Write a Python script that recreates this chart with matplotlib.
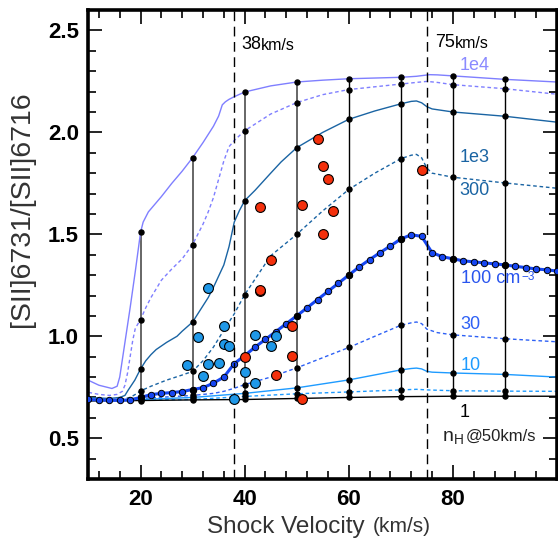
# [SII] doublet ratio vs shock velocity: model grid for several pre-shock
# densities, with vertical lines joining equal-velocity models, plus the
# observed knots (red and blue circles).
import matplotlib.pyplot as plt
from matplotlib.ticker import MultipleLocator, FixedLocator

plt.rcParams['font.family'] = ['Liberation Sans', 'DejaVu Sans']
plt.rcParams['mathtext.fontset'] = 'custom'
plt.rcParams['mathtext.rm'] = 'Liberation Sans'
plt.rcParams['mathtext.it'] = 'Liberation Sans:italic'

# velocities where the model grid has its connecting lines
grid_v = [20, 30, 40, 50, 60, 70, 80, 90]

# model tracks, one per density (cm^-3 at 50 km/s)
v_1e4 = [10, 12, 14.5, 15.5, 16, 17, 18, 19, 20, 20.5, 21.5, 23, 24, 26, 28, 30,
         32, 33, 34, 35, 35.7, 36.3, 37, 38, 40, 45, 50, 55, 60, 70, 73, 75.5,
         77, 80, 90, 100]
r_1e4 = [0.784, 0.76, 0.744, 0.755, 0.80, 0.97, 1.14, 1.32, 1.51, 1.56, 1.61,
         1.655, 1.685, 1.75, 1.81, 1.876, 1.95, 1.99, 2.03, 2.08, 2.135, 2.15,
         2.162, 2.175, 2.198, 2.228, 2.247, 2.256, 2.263, 2.27, 2.275, 2.283,
         2.282, 2.277, 2.26, 2.247]

v_3e3 = [10, 12, 14, 15.5, 16.5, 17, 17.5, 18, 18.5, 19, 20, 21, 22, 24, 26, 28,
         30, 32, 33, 34, 35, 36, 37, 38, 40, 45, 50, 55, 60, 70, 73, 75, 77,
         80, 90, 100]
r_3e3 = [0.725, 0.715, 0.71, 0.715, 0.73, 0.76, 0.82, 0.90, 0.98, 1.04, 1.082,
         1.14, 1.19, 1.275, 1.33, 1.38, 1.45, 1.55, 1.61, 1.68, 1.77, 1.86,
         1.93, 1.96, 2.008, 2.09, 2.146, 2.185, 2.21, 2.237, 2.245, 2.25, 2.245,
         2.234, 2.214, 2.187]

v_1e3 = [10, 14, 16, 17, 17.6, 18.9, 20, 21, 22, 23, 25, 27, 28, 30, 31, 32, 33,
         34, 35, 36, 37, 38, 39, 40, 42, 45, 47, 50, 55, 60, 65, 70, 72, 73, 74,
         75, 76, 80, 90, 100]
r_1e3 = [0.70, 0.695, 0.70, 0.71, 0.735, 0.785, 0.84, 0.88, 0.91, 0.935, 0.97,
         1.00, 1.025, 1.07, 1.11, 1.15, 1.19, 1.24, 1.295, 1.35, 1.44, 1.56,
         1.617, 1.665, 1.716, 1.80, 1.855, 1.925, 2.00, 2.064, 2.105, 2.14,
         2.152, 2.154, 2.145, 2.126, 2.115, 2.10, 2.079, 2.05]

v_300 = [10, 16, 18, 19, 20, 22, 25, 28, 30, 32, 34, 36, 38, 40, 45, 50, 55,
         60, 65, 70, 72, 73, 74, 75, 76, 80, 90, 100]
r_300 = [0.69, 0.69, 0.70, 0.715, 0.732, 0.755, 0.785, 0.81, 0.828, 0.88,
         0.947, 1.03, 1.11, 1.204, 1.395, 1.50, 1.615, 1.72, 1.80, 1.871,
         1.888, 1.892, 1.875, 1.825, 1.80, 1.78, 1.752, 1.726]

v_100 = [10, 12, 14, 16, 18, 20, 22, 24, 26, 28, 30, 32, 34, 36, 38, 40, 42,
         44, 46, 48, 50, 52, 54, 56, 58, 60, 62, 64, 66, 68, 70, 72, 74, 76,
         78, 80, 82, 84, 86, 88, 90, 92, 94, 96, 98, 100]
r_100 = [0.69, 0.688, 0.686, 0.686, 0.688, 0.70, 0.714, 0.72, 0.724, 0.729,
         0.739, 0.748, 0.77, 0.80, 0.866, 0.905, 0.947, 0.985, 1.023, 1.062,
         1.10, 1.14, 1.18, 1.22, 1.26, 1.30, 1.34, 1.376, 1.41, 1.443, 1.477,
         1.498, 1.49, 1.41, 1.39, 1.38, 1.37, 1.365, 1.36, 1.355, 1.35, 1.343,
         1.337, 1.33, 1.326, 1.32]

v_30 = [10, 20, 30, 34, 36, 38, 40, 45, 50, 55, 60, 65, 70, 72, 73, 74, 75, 77,
        80, 90, 100]
r_30 = [0.685, 0.695, 0.71, 0.72, 0.73, 0.745, 0.763, 0.80, 0.845, 0.895,
        0.945, 1.00, 1.054, 1.066, 1.07, 1.062, 1.035, 1.018, 1.007, 0.988,
        0.973]

v_10 = [10, 20, 30, 40, 50, 60, 70, 72, 73, 74, 75, 76, 80, 90, 100]
r_10 = [0.685, 0.69, 0.70, 0.72, 0.747, 0.786, 0.835, 0.842, 0.844, 0.84,
        0.828, 0.824, 0.82, 0.813, 0.80]

v_3 = [10, 20, 30, 40, 50, 60, 70, 73, 75, 80, 90, 100]
r_3 = [0.685, 0.688, 0.69, 0.705, 0.718, 0.727, 0.737, 0.74, 0.737, 0.733,
       0.731, 0.73]

v_1 = [10, 20, 30, 40, 50, 60, 70, 80, 90, 100]
r_1 = [0.683, 0.685, 0.688, 0.69, 0.695, 0.70, 0.704, 0.706, 0.706, 0.706]

# observed knots
blue_v = [29, 31, 32, 33, 33, 35, 36, 36, 37, 38, 40, 42, 42, 45, 46]
blue_r = [0.858, 0.995, 0.804, 1.237, 0.866, 0.871, 1.05, 0.964, 0.953, 0.691,
          0.825, 1.005, 0.771, 0.953, 1.001]
red_v = [40, 43, 43, 43, 45, 46, 49, 49, 51, 51, 54, 55, 55, 56, 57, 74]
red_r = [0.899, 1.634, 1.221, 1.229, 1.373, 0.81, 1.05, 0.903, 1.642, 0.69,
         1.969, 1.835, 1.50, 1.773, 1.615, 1.817]

purple = '#7f7fff'
teal = '#1a64a3'
blue = '#1646f2'
mid_blue = '#2d60f5'
light_blue = '#1e9bff'

tracks = [
    (v_1e4, r_1e4, purple, '-', 1.0),
    (v_3e3, r_3e3, purple, (0, (2.6, 2.0)), 1.0),
    (v_1e3, r_1e3, teal, '-', 1.0),
    (v_300, r_300, teal, (0, (2.6, 2.0)), 1.0),
    (v_30, r_30, mid_blue, (0, (2.6, 2.0)), 1.0),
    (v_10, r_10, light_blue, '-', 1.0),
    (v_3, r_3, light_blue, (0, (2.6, 2.0)), 1.0),
    (v_1, r_1, 'black', '-', 1.0),
]


def on_grid(v, r):
    gv = [a for a in v if a in grid_v]
    gr = [b for a, b in zip(v, r) if a in grid_v]
    return gv, gr


fig = plt.figure(figsize=(5.58, 5.42), dpi=100)
ax = fig.add_axes([0.1586, 0.1162, 0.8396, 0.8653])

# lines of constant velocity, from the lowest to the highest density track
low_v, low_r = on_grid(v_1, r_1)
top_v, top_r = on_grid(v_1e4, r_1e4)
for gv, lo, hi in zip(low_v, low_r, top_r):
    if gv <= 50:
        ax.plot([gv, gv], [lo, hi], color='#666666', lw=1.4, zorder=1)
    else:
        ax.plot([gv, gv], [lo, hi], color='black', lw=1.0, zorder=1)

for v, r, c, ls, lw in tracks:
    ax.plot(v, r, color=c, ls=ls, lw=lw, zorder=2)
    gv, gr = on_grid(v, r)
    ax.plot(gv, gr, 'o', color='black', ms=3.6, zorder=3)

# the 100 cm^-3 track is drawn heavier, with every model shown
ax.plot(v_100, r_100, color=blue, lw=2.2, zorder=3)
ax.plot(v_100, r_100, 'o', color=blue, mec='black', mew=0.7, ms=4.6, zorder=3)
gv, gr = on_grid(v_100, r_100)
ax.plot(gv, gr, 'o', color='black', ms=4.0, zorder=3)

# reference velocities
ax.axvline(38, color='black', lw=1.0, ls=(0, (7, 4)), zorder=4)
ax.axvline(75, color='black', lw=1.0, ls=(0, (7, 4)), zorder=4)

ax.scatter(blue_v, blue_r, s=50, color='#1f98e8', edgecolor='black',
           linewidth=0.8, zorder=6)
ax.scatter(red_v, red_r, s=50, color='#f4300c', edgecolor='black',
           linewidth=0.8, zorder=6)

# velocity labels: number followed by smaller units
t38 = ax.text(39.3, 2.41, '38', fontsize=13, va='baseline')
ax.annotate('km/s', xy=(1, 0), xycoords=t38, fontsize=11.5, va='bottom')
t75 = ax.text(76.6, 2.418, '75', fontsize=13, va='baseline')
ax.annotate('km/s', xy=(1, 0), xycoords=t75, fontsize=11.5, va='bottom')

# density labels for the tracks
ax.text(81.2, 2.328, '1e4', fontsize=13, color='#8a8aff', va='center')
ax.text(81.2, 1.877, '1e3', fontsize=13, color=teal, va='center')
ax.text(81.2, 1.716, '300', fontsize=13, color=teal, va='center')
t100 = ax.text(81.6, 1.284, '100 cm', fontsize=13, color='#2a55ee',
               va='center', zorder=7)
ax.annotate('\u22123', xy=(1, 0.93), xycoords=t100, xytext=(1, 0),
            textcoords='offset points', fontsize=8.5, color='#2a55ee',
            va='top', zorder=7)
ax.text(81.5, 1.059, '30', fontsize=13, color=mid_blue, va='center')
ax.text(81.5, 0.855, '10', fontsize=13, color=light_blue, va='center')
ax.text(82.3, 0.627, '1', fontsize=13, ha='center', va='center')
ax.text(78.0, 0.485, r'n$_{\rm H}$', fontsize=14, color='#222222', va='baseline')
ax.text(82.4, 0.485, '@50km/s', fontsize=12, color='#222222', va='baseline')

ax.set_xlim(10, 100)
ax.set_ylim(0.3, 2.6)
ax.xaxis.set_major_locator(FixedLocator([20, 40, 60, 80]))
ax.xaxis.set_minor_locator(MultipleLocator(4))
ax.yaxis.set_major_locator(MultipleLocator(0.5))
ax.yaxis.set_minor_locator(MultipleLocator(0.1))
ax.yaxis.set_major_formatter(plt.FormatStrFormatter('%.1f'))
ax.tick_params(which='both', direction='in', top=True, right=True, width=1.2)
ax.tick_params(which='major', length=10, labelsize=16, pad=7)
ax.tick_params(which='minor', length=6)
for lbl in ax.get_xticklabels() + ax.get_yticklabels():
    lbl.set_fontweight('bold')
for sp in ax.spines.values():
    sp.set_linewidth(2.6)

# axis titles, with the units set a little smaller
fig.text(207 / 558, 0.028, 'Shock Velocity', fontsize=17.5, color='#333333',
         va='center')
fig.text(373 / 558, 0.028, '(km/s)', fontsize=15, color='#333333',
         va='center')
fig.text(0.040, 0.614, '[SII]6731/[SII]6716', fontsize=20.5, color='#333333',
         rotation=90, ha='center', va='center')

fig.savefig('out.png', dpi=100)
